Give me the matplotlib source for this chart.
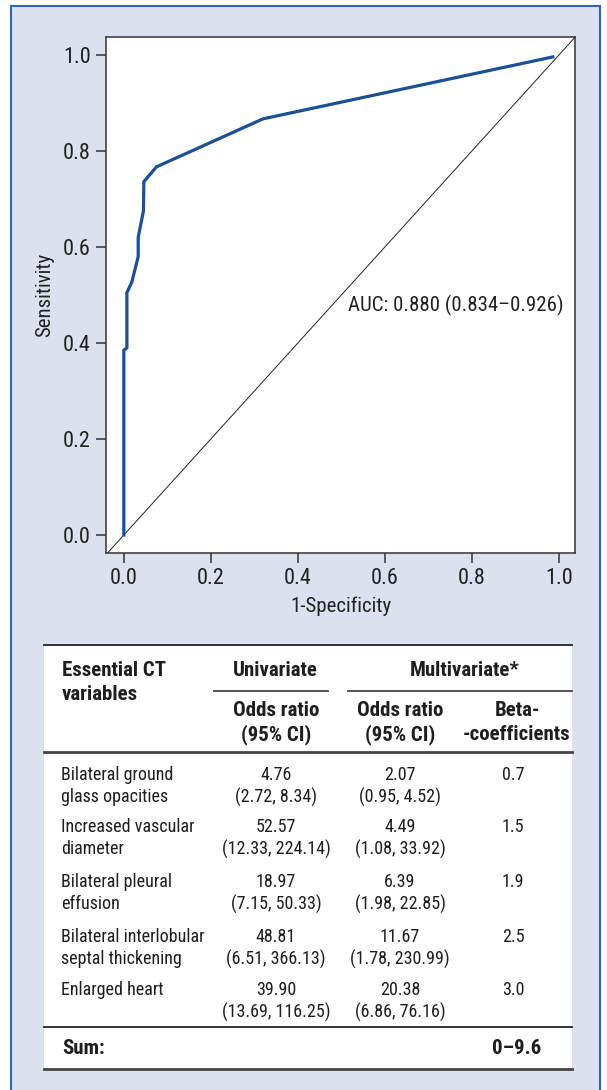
import matplotlib
matplotlib.use("Agg")
import matplotlib.pyplot as plt
from matplotlib.patches import Rectangle
from matplotlib.lines import Line2D

plt.rcParams['font.family'] = ['Roboto Condensed', 'Liberation Sans Narrow', 'Liberation Sans', 'DejaVu Sans']

# ROC curve points
fpr = [0.0, 0.0, 0.007, 0.007, 0.018, 0.033, 0.033, 0.045, 0.046, 0.075, 0.32, 0.986]
sens = [0.0, 0.385, 0.39, 0.505, 0.526, 0.58, 0.62, 0.675, 0.736, 0.767, 0.867, 0.996]
auc_text = "AUC: 0.880 (0.834\u20130.926)"
ticks = [0.0, 0.2, 0.4, 0.6, 0.8, 1.0]

# table contents
variables = [("Bilateral ground", "glass opacities"),
             ("Increased vascular", "diameter"),
             ("Bilateral pleural", "effusion"),
             ("Bilateral interlobular", "septal thickening"),
             ("Enlarged heart", "")]
uni_or = ["4.76", "52.57", "18.97", "48.81", "39.90"]
uni_ci = ["(2.72, 8.34)", "(12.33, 224.14)", "(7.15, 50.33)", "(6.51, 366.13)", "(13.69, 116.25)"]
multi_or = ["2.07", "4.49", "6.39", "11.67", "20.38"]
multi_ci = ["(0.95, 4.52)", "(1.08, 33.92)", "(1.98, 22.85)", "(1.78, 230.99)", "(6.86, 76.16)"]
beta = ["0.7", "1.5", "1.9", "2.5", "3.0"]
sum_text = "0\u20139.6"

W, H = 607, 1090
fig = plt.figure(figsize=(W / 100, H / 100), dpi=100)
fig.patch.set_facecolor('white')

def fx(px):
    return px / W

def fy(py):
    return 1 - py / H

bg = '#dce1ef'
fig.patches.append(Rectangle((fx(11), fy(1100)), fx(600) - fx(11), fy(6) - fy(1100),
                             transform=fig.transFigure, facecolor=bg, edgecolor='#2f66ac',
                             linewidth=1.5, zorder=-2))
# white table area
fig.patches.append(Rectangle((fx(44), fy(1069)), fx(572) - fx(44), fy(645) - fy(1069),
                             transform=fig.transFigure, facecolor='white', edgecolor='none', zorder=-1))

ax = fig.add_axes([fx(106), fy(553), fx(575) - fx(106), fy(37) - fy(553)])
ax.set_zorder(2)
ax.set_facecolor('white')
ax.plot([-0.1, 1.1], [-0.1, 1.1], color='#222222', lw=0.7)
ax.plot(fpr, sens, color='#1b4f96', lw=2.3, solid_joinstyle='miter')
ax.set_xlim(-0.041, 1.037)
ax.set_ylim(-0.0375, 1.0375)
ax.set_xticks(ticks)
ax.set_yticks(ticks)
ax.set_xticklabels(["%.1f" % t for t in ticks])
ax.set_yticklabels(["%.1f" % t for t in ticks])
ax.tick_params(length=7, width=1.1, color='#333333', labelsize=16, labelcolor='#222222', pad=4)
for s in ax.spines.values():
    s.set_linewidth(1.1)
    s.set_color('#333333')
ax.set_xlabel('1-Specificity', fontsize=15, color='#222222', labelpad=5)
ax.set_ylabel('Sensitivity', fontsize=15, color='#222222', labelpad=6)
ax.text(0.516, 0.48, auc_text, fontsize=15, color='#222222', ha='left', va='center',
        transform=ax.transAxes)

# table
tc = '#1e1e1e'
fs = 13
fsb = 15
def txt(x, y, s, ha='center', bold=False):
    fig.text(fx(x), fy(y), s, ha=ha, va='center', fontsize=fsb if bold else fs, color=tc,
             fontweight='bold' if bold else 'normal', zorder=3)

def hline(x0, x1, y, lw, color='#222222'):
    fig.lines.append(Line2D([fx(x0), fx(x1)], [fy(y), fy(y)], transform=fig.transFigure,
                            color=color, lw=lw, zorder=3))

col_x = [276, 400, 517]
hline(44, 572, 645, 1.3)
txt(62, 670, "Essential CT", ha='left', bold=True)
txt(62, 694, "variables", ha='left', bold=True)
txt(275, 670, "Univariate", bold=True)
txt(465, 670, "Multivariate*", bold=True)
hline(214, 328, 691, 1.3, '#444444')
hline(348, 572, 691, 1.3, '#444444')
txt(col_x[0], 711, "Odds ratio", bold=True)
txt(col_x[0], 735, "(95% CI)", bold=True)
txt(col_x[1], 711, "Odds ratio", bold=True)
txt(col_x[1], 735, "(95% CI)", bold=True)
txt(col_x[2], 711, "Beta-", bold=True)
txt(col_x[2], 735, "-coefficients", bold=True)
hline(44, 572, 752, 2.0, '#444444')

row_y = [775, 827, 882, 937, 990]
for i, y in enumerate(row_y):
    txt(61, y, variables[i][0], ha='left')
    if variables[i][1]:
        txt(61, y + 22, variables[i][1], ha='left')
    txt(col_x[0], y, uni_or[i])
    txt(col_x[0], y + 22, uni_ci[i])
    txt(col_x[1], y, multi_or[i])
    txt(col_x[1], y + 22, multi_ci[i])
    txt(col_x[2] - 4, y, beta[i])

hline(44, 572, 1027, 1.3)
txt(62, 1049, "Sum:", ha='left', bold=True)
txt(col_x[2], 1049, sum_text, bold=True)
hline(44, 572, 1069, 2.0, '#444444')

fig.savefig('out.png', dpi=100)
